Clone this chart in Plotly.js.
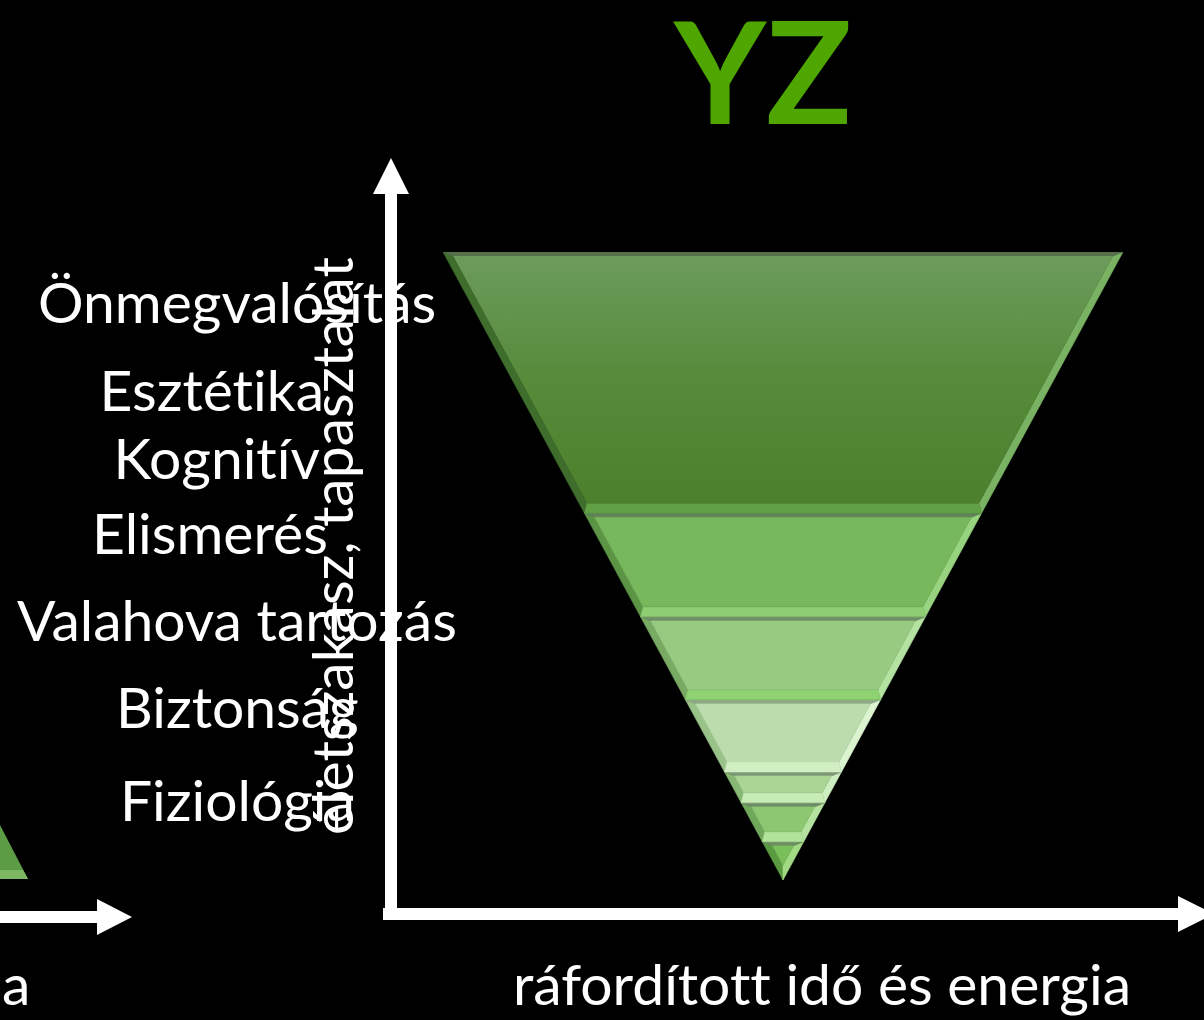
<!DOCTYPE html>
<html><head><meta charset="utf-8">
<script src="https://cdn.plot.ly/plotly-3.0.1.min.js"></script>
<style>html,body{margin:0;padding:0;background:#000;}#chart{width:1204px;height:1020px;}
#chart text{font-variant-ligatures:none !important;font-feature-settings:"liga" 0,"clig" 0 !important;}</style>
</head><body><div id="chart"></div>
<script>
// ---------- data ----------
const chartTitle = "YZ";
const xAxisTitle = "ráfordított idő és energia";
const yAxisTitle = "életszakasz, tapasztalat";
const leftTail = "a";
// need levels as listed on the left, top to bottom
const needLabels = ["Önmegvalósítás", "Esztétika", "Kognitív", "Elismerés", "Valahova tartozás", "Biztonság", "Fiziológia"];
// inverted pyramid layers, from the apex upwards
const layerNames = ["Fiziológia", "Biztonság", "Valahova tartozás", "Elismerés", "Kognitív", "Esztétika", "Önmegvalósítás"];
// layer heights (% of the pyramid height), apex first
const layerHeights = [6.1, 6.2, 4.9, 11.5, 13.2, 16.5, 41.6];

// ---------- styles / layout ----------
const W = 1204, H = 1020;
const FONT = "Lato, 'Open Sans', sans-serif";
const box = {x0: 443, x1: 1123, y0: 252, y1: 880};
const pxX = (box.x1 - box.x0) / 100, pxY = (box.y1 - box.y0) / 100;
const faceCol   = ["#79c05b", "#8cc872", "#a9d595", "#bcdcad", "#98cb82", "#78b85c", null];
const bottomCol = ["#79c05b", "#b2e39a", "#c6ebb4", "#d2efc4", "#8ed271", "#8fcd73", "#62a046"];
const rightCol  = ["#a2da84", "#b5e29f", "#cdeec0", "#dcf3d0", "#b4e2a0", "#98d47f", "#79b262"];
const leftCol   = ["#5a9b42", "#6fa85a", "#86b873", "#98c287", "#78aa63", "#5a9444", "#3f6e2c"];
const topCol    = ["#6e8e64", "#6f8c68", "#7d9876", "#8ea888", "#6f8e66", "#62805a", "#56704c"];
const labelX = [237, 212, 216, 210, 237, 237, 237];
const labelY = [301, 389, 457, 532, 619, 706, 799];
const LABEL_SIZE = 57;

const bb = 10 / pxY, tb = 4 / pxY, sd = 7 * 1.136 / pxX;
const hw = y => y / 2;
const traces = [];
function poly(pts, color, grad) {
  const xs = pts.map(p => p[0]).concat([pts[0][0]]);
  const ys = pts.map(p => p[1]).concat([pts[0][1]]);
  const t = {x: xs, y: ys, type: 'scatter', mode: 'lines', fill: 'toself',
    fillcolor: color, line: {width: 0.6, color: color}, hoverinfo: 'skip', showlegend: false};
  if (grad) { t.fillgradient = grad; t.line.color = 'rgba(0,0,0,0)'; t.line.width = 0; }
  traces.push(t);
}
let acc = 0;
layerHeights.forEach((h, i) => {
  const b0 = acc, b1 = acc + h; acc = b1;
  const h0 = hw(b0), h1 = hw(b1);
  let yi0 = b0 + (i === 0 ? 0 : bb);
  let yi1 = b1 - tb;
  let hi0 = hw(yi0) - sd;
  if (hi0 < 0) { yi0 = 2 * sd; hi0 = 0; }
  const hi1 = hw(yi1) - sd;
  poly([[-h0, b0], [-h1, b1], [-hi1, yi1], [-hi0, yi0]], leftCol[i]);
  poly([[h0, b0], [h1, b1], [hi1, yi1], [hi0, yi0]], rightCol[i]);
  if (i > 0) poly([[-h0, b0], [h0, b0], [hi0, yi0], [-hi0, yi0]], bottomCol[i]);
  poly([[-h1, b1], [h1, b1], [hi1, yi1], [-hi1, yi1]], topCol[i]);
  const face = [[-hi0, yi0], [hi0, yi0], [hi1, yi1], [-hi1, yi1]];
  if (faceCol[i]) poly(face, faceCol[i]);
  else poly(face, '#5a8f3e', {type: 'vertical', colorscale: [[0, '#4c802c'], [0.5, '#568b3a'], [1, '#6c9b5c']]});
});

// ---------- decorations (axes arrows) ----------
const PX = x => x / W, PY = y => 1 - y / H;
function path(pts) { return 'M ' + pts.map(p => PX(p[0]) + ',' + PY(p[1])).join(' L ') + ' Z'; }
const white = '#ffffff';
const shapes = [
  {type: 'path', xref: 'paper', yref: 'paper', path: path([[385, 190], [397, 190], [397, 920], [385, 920]]), fillcolor: white, line: {width: 0}},
  {type: 'path', xref: 'paper', yref: 'paper', path: path([[373, 194], [391, 158], [409, 194]]), fillcolor: white, line: {width: 0}},
  {type: 'path', xref: 'paper', yref: 'paper', path: path([[383, 908], [1180, 908], [1180, 920], [383, 920]]), fillcolor: white, line: {width: 0}},
  {type: 'path', xref: 'paper', yref: 'paper', path: path([[1178, 896], [1214, 914], [1178, 932]]), fillcolor: white, line: {width: 0}},
  {type: 'path', xref: 'paper', yref: 'paper', path: path([[0, 911], [99, 911], [99, 923], [0, 923]]), fillcolor: white, line: {width: 0}},
  {type: 'path', xref: 'paper', yref: 'paper', path: path([[97, 899], [132, 917], [97, 935]]), fillcolor: white, line: {width: 0}},
  {type: 'path', xref: 'paper', yref: 'paper', path: path([[0, 825], [28, 879], [0, 879]]), fillcolor: '#5c9c44', line: {width: 0}},
  {type: 'path', xref: 'paper', yref: 'paper', path: path([[0, 870], [23, 870], [28, 879], [0, 879]]), fillcolor: '#7cb862', line: {width: 0}}
];

const annotations = needLabels.map((t, k) => ({
  text: t, xref: 'paper', yref: 'paper', x: PX(labelX[k]), y: PY(labelY[k]),
  xanchor: 'center', yanchor: 'middle', showarrow: false,
  font: {family: FONT, size: LABEL_SIZE, color: white}
}));
annotations.push({text: yAxisTitle, xref: 'paper', yref: 'paper', x: PX(331), y: PY(546),
  xanchor: 'center', yanchor: 'middle', showarrow: false, textangle: -90,
  font: {family: FONT, size: LABEL_SIZE, color: white}});
annotations.push({text: xAxisTitle, xref: 'paper', yref: 'paper', x: PX(822), y: PY(983),
  xanchor: 'center', yanchor: 'middle', showarrow: false,
  font: {family: FONT, size: LABEL_SIZE, color: white}});
annotations.push({text: leftTail, xref: 'paper', yref: 'paper', x: PX(0), y: PY(983),
  xanchor: 'left', yanchor: 'middle', showarrow: false,
  font: {family: FONT, size: LABEL_SIZE, color: white}});

const layout = {
  width: W, height: H, margin: {l: 0, r: 0, t: 0, b: 0},
  paper_bgcolor: '#000', plot_bgcolor: '#000', showlegend: false,
  title: {text: chartTitle, x: PX(763), xanchor: 'center', y: PY(74), yanchor: 'middle',
    font: {family: FONT, size: 142, weight: 'bold', color: '#4fa600'}},
  xaxis: {domain: [PX(box.x0), PX(box.x1)], range: [-50, 50], visible: false, fixedrange: true},
  yaxis: {domain: [PY(box.y1), PY(box.y0)], range: [0, 100], visible: false, fixedrange: true},
  shapes: shapes, annotations: annotations
};
Plotly.newPlot('chart', traces, layout, {staticPlot: true, displayModeBar: false});
</script></body></html>
